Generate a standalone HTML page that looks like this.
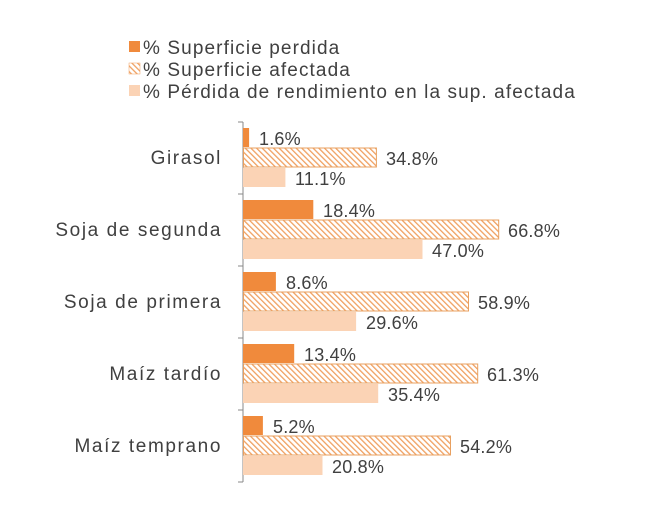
<!DOCTYPE html>
<html><head><meta charset="utf-8"><style>
body{margin:0;background:#fff;}
svg text{font-family:"Liberation Sans",sans-serif;fill:#404040;}
.c{font-size:19px;letter-spacing:1.6px;}
.l{font-size:19px;letter-spacing:1.1px;}
.n{font-size:18px;letter-spacing:0.2px;}
</style></head><body>
<svg width="650" height="516" viewBox="0 0 650 516" xmlns="http://www.w3.org/2000/svg">
<defs>
<pattern id="h" patternUnits="userSpaceOnUse" width="4" height="4" patternTransform="rotate(-45)">
<rect width="4" height="4" fill="#fff"/><rect width="1.3" height="4" fill="#f0a060"/>
</pattern>
</defs>
<rect x="129" y="41" width="11" height="11" fill="#f08a3c"/>
<text class="l" x="143" y="54">% Superficie perdida</text>
<rect x="129" y="63" width="11" height="11" fill="url(#h)" stroke="#f0a060" stroke-width="0.5"/>
<text class="l" x="143" y="76">% Superficie afectada</text>
<rect x="129" y="85" width="11" height="11" fill="#fbd3b5"/>
<text class="l" x="143" y="98">% Pérdida de rendimiento en la sup. afectada</text>
<line x1="243" y1="122" x2="243" y2="482" stroke="#888" stroke-width="1"/>
<g stroke="#888">
<line x1="238" y1="122" x2="243" y2="122"/><line x1="238" y1="194" x2="243" y2="194"/>
<line x1="238" y1="266" x2="243" y2="266"/><line x1="238" y1="338" x2="243" y2="338"/>
<line x1="238" y1="410" x2="243" y2="410"/><line x1="238" y1="482" x2="243" y2="482"/>
</g>
<text class="c" x="222" y="164" text-anchor="end">Girasol</text>
<text class="c" x="222" y="236" text-anchor="end">Soja de segunda</text>
<text class="c" x="222" y="308" text-anchor="end">Soja de primera</text>
<text class="c" x="222" y="380" text-anchor="end">Maíz tardío</text>
<text class="c" x="222" y="452" text-anchor="end">Maíz temprano</text>
<g class="n">
<rect x="243" y="128" width="6.1" height="19" fill="#f08a3c"/>
<text x="259" y="145">1.6%</text>
<rect x="243.5" y="148" width="132.9" height="19" fill="url(#h)" stroke="#e8a060"/>
<text x="386" y="165">34.8%</text>
<rect x="243" y="168" width="42.4" height="19" fill="#fbd3b5"/>
<text x="295" y="185">11.1%</text>

<rect x="243" y="200" width="70.3" height="19" fill="#f08a3c"/>
<text x="323" y="217">18.4%</text>
<rect x="243.5" y="220" width="255.2" height="19" fill="url(#h)" stroke="#e8a060"/>
<text x="508" y="237">66.8%</text>
<rect x="243" y="240" width="179.5" height="19" fill="#fbd3b5"/>
<text x="432" y="257">47.0%</text>

<rect x="243" y="272" width="32.9" height="19" fill="#f08a3c"/>
<text x="286" y="289">8.6%</text>
<rect x="243.5" y="292" width="225" height="19" fill="url(#h)" stroke="#e8a060"/>
<text x="478" y="309">58.9%</text>
<rect x="243" y="312" width="113.1" height="19" fill="#fbd3b5"/>
<text x="366" y="329">29.6%</text>

<rect x="243" y="344" width="51.2" height="19" fill="#f08a3c"/>
<text x="304" y="361">13.4%</text>
<rect x="243.5" y="364" width="234.2" height="19" fill="url(#h)" stroke="#e8a060"/>
<text x="487" y="381">61.3%</text>
<rect x="243" y="384" width="135.2" height="19" fill="#fbd3b5"/>
<text x="388" y="401">35.4%</text>

<rect x="243" y="416" width="19.9" height="19" fill="#f08a3c"/>
<text x="273" y="433">5.2%</text>
<rect x="243.5" y="436" width="207" height="19" fill="url(#h)" stroke="#e8a060"/>
<text x="460" y="453">54.2%</text>
<rect x="243" y="456" width="79.5" height="19" fill="#fbd3b5"/>
<text x="332" y="473">20.8%</text>
</g>
</svg>
</body></html>
